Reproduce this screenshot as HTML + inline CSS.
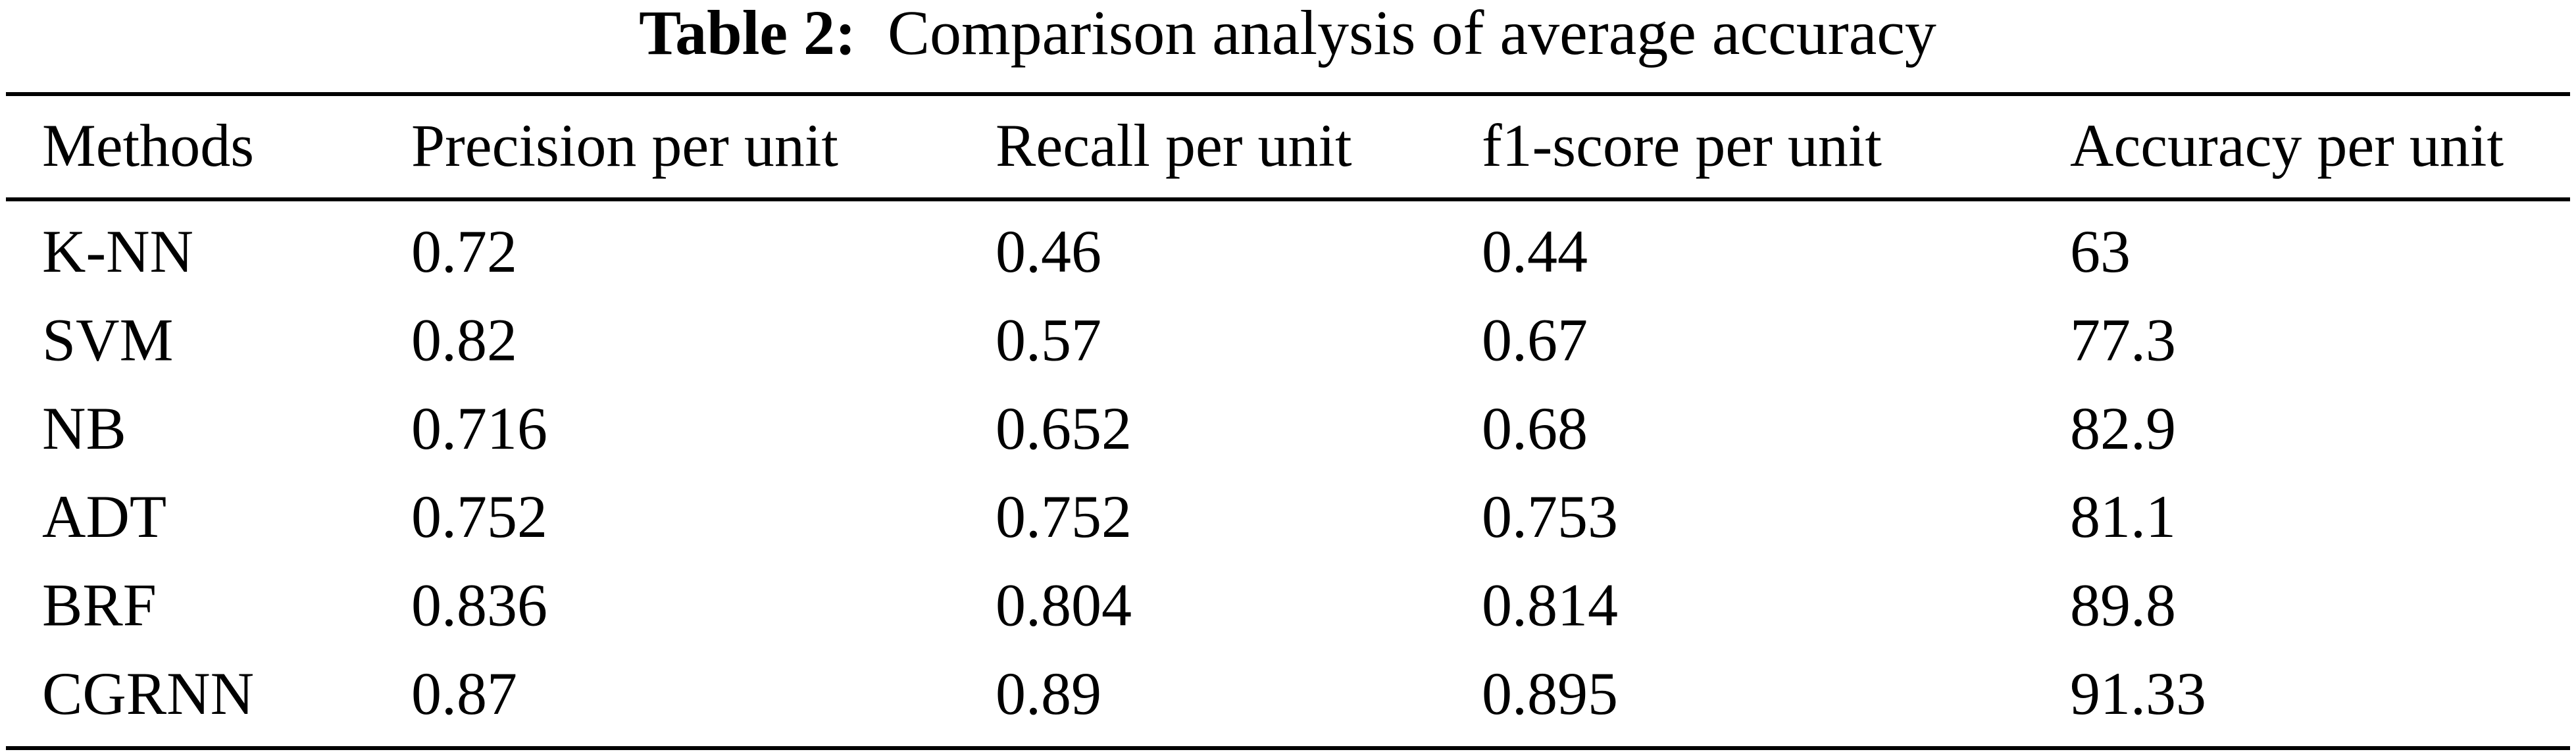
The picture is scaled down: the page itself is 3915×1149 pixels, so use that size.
<!DOCTYPE html>
<html><head><meta charset="utf-8"><style>
html,body{margin:0;padding:0;background:#fff;}
svg{display:block;}
text{font-family:"Liberation Serif","Times New Roman",serif;fill:#000;}
</style></head><body>
<svg width="3915" height="1149" viewBox="0 0 3915 1149">
<text x="1957" y="82" font-size="96" text-anchor="middle"><tspan font-weight="bold">Table 2:</tspan><tspan xml:space="preserve">  Comparison analysis of average accuracy</tspan></text>
<rect x="9" y="140" width="3897" height="6" fill="#000"/>
<rect x="9" y="300" width="3897" height="6" fill="#000"/>
<rect x="9" y="1134" width="3897" height="6" fill="#000"/>
<g id="hdr" font-size="92"></g>
<g id="body" font-size="92"></g>
</svg>
<script>
const headers = ["Methods","Precision per unit","Recall per unit","f1-score per unit","Accuracy per unit"];
const methods = ["K-NN","SVM","NB","ADT","BRF","CGRNN"];
const precision = ["0.72","0.82","0.716","0.752","0.836","0.87"];
const recall = ["0.46","0.57","0.652","0.752","0.804","0.89"];
const f1score = ["0.44","0.67","0.68","0.753","0.814","0.895"];
const accuracy = ["63","77.3","82.9","81.1","89.8","91.33"];
const NS="http://www.w3.org/2000/svg";
const colX=[64,625,1513,2252,3146];
const hdr=document.getElementById('hdr');
headers.forEach((h,i)=>{
  const t=document.createElementNS(NS,'text');
  t.setAttribute('x',colX[i]);t.setAttribute('y',252);
  t.textContent=h;
  
  
  hdr.appendChild(t);
});
const body=document.getElementById('body');
const cols=[methods,precision,recall,f1score,accuracy];
methods.forEach((m,r)=>{
  const y=413+r*134.4;
  cols.forEach((col,c)=>{
    const t=document.createElementNS(NS,'text');
    t.setAttribute('x',colX[c]);t.setAttribute('y',y);
    t.textContent=col[r];
    
    
    body.appendChild(t);
  });
});
</script>
</body></html>
